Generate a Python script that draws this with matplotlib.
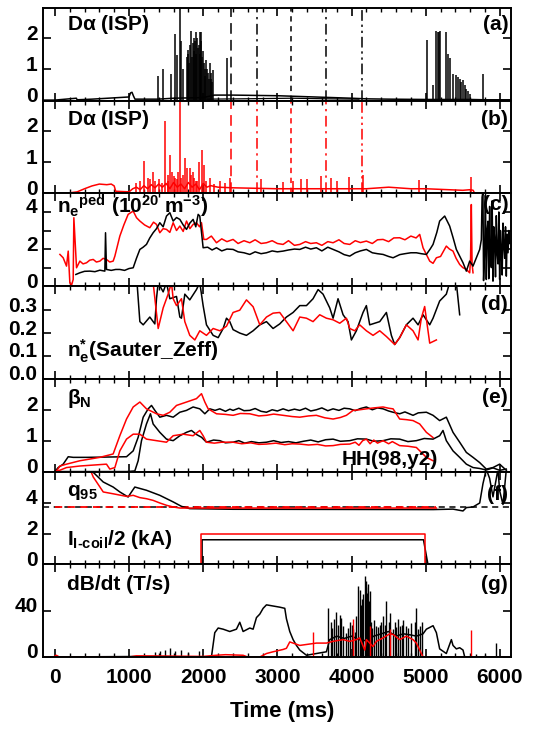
import matplotlib
matplotlib.use('Agg')
import matplotlib.pyplot as plt
from matplotlib.ticker import MultipleLocator, FixedLocator
from matplotlib.transforms import ScaledTranslation

FAM = ['Liberation Sans', 'DejaVu Sans']
plt.rcParams['font.family'] = FAM
plt.rcParams['font.weight'] = 'bold'
plt.rcParams['mathtext.fontset'] = 'custom'
plt.rcParams['mathtext.rm'] = 'Liberation Sans:bold'
plt.rcParams['mathtext.it'] = 'Liberation Sans:bold'
plt.rcParams['mathtext.bf'] = 'Liberation Sans:bold'
plt.rcParams['mathtext.sf'] = 'Liberation Sans:bold'
plt.rcParams['mathtext.default'] = 'rm'

# ---------------- data (time in ms) ----------------
# (a) D-alpha black: baseline + spikes
da_a_t = [-160, 0, 290, 300, 500, 1000, 1020, 1040, 1060, 1080, 1390, 1600, 2000, 2150, 2400,
          3000, 3500, 4000, 4200, 4500, 5000, 5600, 5800, 6150]
da_a_v = [0.02, 0.02, 0.08, 0.03, 0.05, 0.12, 0.25, 0.27, 0.15, 0.05, 0.05, 0.08, 0.1, 0.18, 0.18,
          0.16, 0.12, 0.08, 0.06, 0.05, 0.04, 0.04, 0.03, 0.03]
da_a_low_t = [2050, 2500, 3200, 3700, 4100]
da_a_low_v = [0.05, 0.06, 0.08, 0.06, 0.05]
spk_a_t = [1393, 1460, 1572, 1617, 1649, 1685, 1707, 1730, 1775, 1790, 1800, 1810, 1825, 1842, 1850,
           1864, 1870, 1880, 1890, 1900, 1909, 1920, 1930, 1940, 1954, 1960, 1970, 1977, 1985, 1999,
           2010, 2022, 2030, 2044, 2055, 2067, 2075, 2089, 2100, 2110, 2120, 2134, 2327,
           5022, 5099, 5144, 5160, 5175, 5188, 5278, 5300, 5323, 5368, 5413, 5440, 5458, 5480,
           5503, 5530, 5548, 5570, 5593, 5772]
spk_a_v = [0.78, 1.03, 0.85, 2.14, 1.47, 3.0, 1.9, 1.0, 1.4, 1.5, 1.63, 1.2, 1.8, 2.23, 1.4,
           1.85, 1.6, 2.0, 1.9, 1.5, 2.2, 2.0, 1.7, 1.8, 2.2, 1.5, 1.9, 2.2, 1.4, 1.6,
           1.2, 1.0, 0.8, 1.3, 1.0, 0.9, 0.7, 1.2, 0.9, 0.7, 0.6, 0.98, 1.36,
           1.96, 0.5, 2.23, 2.2, 2.2, 2.23, 2.2, 1.5, 1.36, 0.87, 0.82, 0.75, 0.7, 0.6,
           0.65, 0.5, 0.38, 0.3, 0.22, 0.87]
# vertical time markers
mark_t = [2372, 2732, 3181, 3652, 4147]

# (b) D-alpha red
da_b_t = [-160, 0, 200, 300, 400, 500, 600, 700, 760, 800, 820, 1000, 1050, 1100, 1150, 1200,
          1250, 1300, 1350, 1400, 1450, 1500, 1550, 1600, 1650, 1700, 1750, 1800, 1850, 1900,
          1950, 2000, 2050, 2100, 2200, 2400, 3000, 3500, 4000, 4200, 4500, 4800, 5000, 5300,
          5500, 5600, 5640, 5660, 6150]
da_b_v = [0.0, 0.02, 0.02, 0.05, 0.15, 0.24, 0.3, 0.28, 0.3, 0.24, 0.07, 0.05, 0.15, 0.2, 0.12, 0.25,
          0.15, 0.28, 0.18, 0.3, 0.2, 0.32, 0.15, 0.35, 0.2, 0.3, 0.15, 0.35, 0.2, 0.3,
          0.12, 0.32, 0.2, 0.25, 0.2, 0.18, 0.15, 0.15, 0.15, 0.15, 0.2, 0.15, 0.15, 0.12,
          0.1, 0.12, 0.1, 0.0, 0.0]
spk_b_t = [1100, 1150, 1204, 1250, 1280, 1325, 1350, 1400, 1440, 1491, 1520, 1530, 1559, 1586,
           1600, 1617, 1640, 1660, 1685, 1707, 1730, 1752, 1784, 1819, 1840, 1864, 1880, 1900,
           1920, 1945, 1986, 2008, 2040, 2089, 2150, 2224, 2300, 2358, 2776, 3077, 3212, 3315,
           3405, 3594, 3720, 3809, 3967, 4155, 4910, 5615]
spk_b_v = [0.35, 0.4, 1.03, 0.5, 0.45, 0.7, 0.4, 0.45, 0.35, 2.33, 0.4, 0.6, 1.23, 0.7,
           0.55, 0.5, 0.45, 0.7, 3.0, 0.5, 0.6, 1.12, 0.8, 0.8, 0.6, 0.68, 0.5, 0.4,
           0.4, 1.0, 1.4, 0.9, 0.4, 0.5, 0.3, 0.4, 0.35, 0.5, 0.46, 0.37, 0.4, 0.46,
           0.46, 0.57, 0.5, 0.4, 0.52, 0.6, 0.43, 0.54]

# (c) pedestal density
ne_red_t = [68, 112, 157, 180, 202, 225, 247, 256, 274, 292, 337, 380, 427, 470, 517, 560, 607,
            650, 696, 740, 786, 809, 876, 930, 988, 1056, 1101, 1146, 1210, 1280, 1330, 1370,
            1415, 1460, 1505, 1550, 1595, 1640, 1685, 1730, 1775, 1820, 1864, 1909, 1950, 1977,
            2008, 2044, 2110, 2179, 2250, 2320, 2403, 2470, 2550, 2628, 2700, 2780, 2853, 2930,
            3000, 3077, 3150, 3230, 3302, 3380, 3450, 3526, 3600, 3680, 3751, 3830, 3900, 3976,
            4050, 4120, 4200, 4280, 4350, 4425, 4500, 4570, 4649, 4720, 4800, 4870, 4919, 4964,
            5010, 5054, 5099, 5144, 5200, 5278, 5320, 5368, 5410, 5458, 5500, 5548, 5593, 5605,
            5615, 5625, 5638]
ne_red_v = [1.71, 1.53, 1.08, 1.89, 0.18, 0.05, 0.36, 3.69, 2.34, 0.99, 1.35, 1.2, 1.26, 1.4, 1.44,
            1.3, 1.35, 1.5, 1.44, 1.3, 1.35, 1.62, 2.7, 3.3, 3.87, 4.05, 3.69, 3.51, 3.3, 3.15,
            3.45, 3.33, 2.88, 3.1, 3.06, 2.9, 3.42, 3.0, 3.24, 2.95, 3.51, 3.1, 3.33, 3.42, 3.2,
            3.42, 2.52, 2.52, 2.7, 2.34, 2.55, 2.4, 2.52, 2.3, 2.45, 2.34, 2.5, 2.3, 2.34, 2.45,
            2.3, 2.25, 2.45, 2.2, 2.25, 2.4, 2.3, 2.34, 2.2, 2.4, 2.34, 2.5, 2.3, 2.25, 2.45,
            2.35, 2.43, 2.3, 2.5, 2.52, 2.4, 2.6, 2.61, 2.5, 2.7, 2.6, 2.79, 2.07, 1.7, 1.35,
            1.23, 1.53, 1.6, 2.16, 2.0, 1.89, 1.5, 1.17, 1.0, 0.9, 0.72, 1.5, 4.4, 1.2, 0.72]
ne_blk_t = [283, 337, 400, 472, 540, 607, 660, 674, 683, 696, 760, 820, 876, 940, 1000, 1056,
            1100, 1146, 1190, 1235, 1280, 1325, 1370, 1415, 1460, 1505, 1550, 1595, 1640, 1685,
            1730, 1775, 1820, 1864, 1900, 1932, 1954, 1999, 2060, 2120, 2179, 2250, 2320, 2403,
            2470, 2550, 2628, 2700, 2780, 2853, 2930, 3000, 3077, 3150, 3230, 3302, 3380, 3450,
            3526, 3600, 3680, 3751, 3830, 3900, 3976, 4050, 4120, 4200, 4280, 4350, 4425, 4500,
            4560, 4650, 4720, 4800, 4874, 4940, 5009, 5060, 5099, 5150, 5188, 5256, 5323, 5370,
            5413, 5460, 5503, 5548, 5593, 5638, 5690, 5728, 5750, 5760, 5772, 5780, 5795, 5805,
            5817, 5828, 5840, 5850, 5862, 5873, 5885, 5896, 5907, 5918, 5930, 5941, 5952, 5963,
            5975, 5986, 5997, 6008, 6020, 6031, 6042, 6053, 6065, 6076, 6087, 6098, 6110, 6121,
            6132]
ne_blk_v = [0.63, 0.72, 0.8, 0.81, 0.78, 0.86, 0.82, 0.81, 2.88, 0.9, 0.85, 0.9, 0.9, 0.85, 0.95,
            0.99, 1.5, 1.98, 2.1, 2.25, 2.6, 2.88, 3.1, 3.42, 3.2, 3.78, 3.96, 3.51, 3.7, 3.6,
            3.3, 3.06, 3.4, 3.6, 3.2, 3.87, 3.78, 2.07, 2.1, 1.95, 2.07, 1.9, 2.0, 1.98,
            1.85, 1.8, 1.71, 1.85, 1.75, 1.8, 1.9, 1.85, 1.89, 1.95, 2.0, 1.98, 2.1, 2.0,
            2.07, 1.9, 2.1, 1.98, 1.85, 1.7, 1.62, 1.8, 1.9, 1.98, 1.8, 1.75, 1.71, 1.6,
            1.53, 1.7, 1.75, 1.8, 1.8, 1.75, 1.71, 2.0, 2.25, 2.9, 3.51, 3.78, 3.24, 2.6,
            1.98, 1.6, 1.26, 0.81, 1.35, 1.08, 1.6, 1.98, 2.5, 4.8, 5.1, 0.3, 2.0, 4.9,
            0.36, 3.0, 3.5, 0.4, 4.3, 1.5, 1.0, 4.6, 0.27, 3.2, 2.5, 0.5, 3.8, 1.8,
            1.2, 4.0, 0.36, 3.0, 2.0, 0.6, 3.4, 2.2, 1.5, 3.2, 0.54, 2.8, 1.8, 3.0,
            2.3]

# (d) collisionality
nu_blk_t = [1101, 1146, 1191, 1280, 1348, 1370, 1393, 1460, 1505, 1550, 1640, 1685, 1707, 1752,
            1819, 1909, 1954, 1999, 2044, 2134, 2202, 2269, 2314, 2358, 2403, 2493, 2583, 2673,
            2763, 2853, 2942, 3032, 3122, 3212, 3302, 3392, 3481, 3549, 3616, 3706, 3751, 3818,
            3886, 3953, 3998, 4065, 4155, 4200, 4245, 4380, 4470, 4537, 4582, 4649, 4739, 4829,
            4897, 4964, 5054, 5099, 5188, 5278, 5323, 5413, 5458]
nu_blk_v = [0.45, 0.25, 0.236, 0.27, 0.24, 0.35, 0.42, 0.38, 0.42, 0.35, 0.36, 0.27, 0.265, 0.37,
            0.345, 0.39, 0.42, 0.32, 0.236, 0.19, 0.18, 0.22, 0.265, 0.25, 0.215, 0.2, 0.19, 0.21,
            0.236, 0.25, 0.22, 0.24, 0.27, 0.29, 0.32, 0.32, 0.35, 0.39, 0.37, 0.31, 0.265, 0.35,
            0.28, 0.25, 0.17, 0.21, 0.29, 0.32, 0.236, 0.25, 0.29, 0.19, 0.15, 0.18, 0.236, 0.265,
            0.236, 0.28, 0.236, 0.265, 0.34, 0.37, 0.42, 0.42, 0.28]
nu_red_t = [1325, 1393, 1460, 1527, 1572, 1595, 1640, 1707, 1752, 1819, 1887, 1954, 2044, 2134,
            2224, 2314, 2403, 2493, 2583, 2673, 2763, 2853, 2942, 3032, 3122, 3212, 3302, 3392,
            3481, 3571, 3661, 3751, 3841, 3931, 3976, 4043, 4110, 4200, 4290, 4380, 4470, 4582,
            4649, 4739, 4829, 4897, 4941, 4986, 5054, 5144]
nu_red_v = [0.42, 0.22, 0.31, 0.37, 0.42, 0.35, 0.32, 0.35, 0.25, 0.19, 0.17, 0.21, 0.19, 0.22,
            0.21, 0.23, 0.29, 0.30, 0.345, 0.315, 0.236, 0.27, 0.287, 0.29, 0.25, 0.21, 0.27, 0.265,
            0.25, 0.28, 0.265, 0.258, 0.243, 0.265, 0.22, 0.21, 0.236, 0.21, 0.19, 0.21, 0.185, 0.15,
            0.18, 0.236, 0.21, 0.17, 0.265, 0.316, 0.156, 0.17]

# (e) beta_N and H98
bn_blk_t = [0, 45, 112, 180, 247, 427, 700, 966, 1056, 1123, 1191, 1258, 1303, 1348, 1415, 1505,
            1595, 1685, 1775, 1864, 1954, 2022, 2089, 2160, 2224, 2300, 2360, 2403, 2480, 2550,
            2628, 2700, 2780, 2853, 2930, 3000, 3077, 3150, 3230, 3302, 3380, 3450, 3526, 3600,
            3680, 3751, 3830, 3900, 3976, 4050, 4120, 4200, 4280, 4350, 4425, 4500, 4560, 4649,
            4720, 4829, 4900, 5009, 5099, 5188, 5278, 5368, 5458, 5548, 5638, 5728, 5817, 5907,
            5997, 6087]
bn_blk_v = [0.0, 0.13, 0.24, 0.48, 0.46, 0.46, 0.47, 0.48, 0.67, 1.11, 1.76, 2.03, 2.14, 1.98, 1.76,
            1.82, 1.76, 1.92, 1.98, 2.09, 2.03, 1.87, 2.03, 1.98, 2.03, 1.95, 2.02, 1.98, 2.05,
            1.97, 1.98, 2.04, 1.95, 1.92, 2.0, 1.96, 2.03, 1.97, 2.02, 1.98, 2.05, 1.96, 2.0,
            2.06, 1.97, 2.03, 1.98, 2.05, 2.03, 1.97, 2.04, 2.09, 2.0, 2.06, 2.03, 1.96, 1.92,
            1.87, 1.93, 1.82, 1.9, 1.92, 1.82, 1.65, 1.76, 1.27, 0.95, 0.62, 0.46, 0.29, 0.08,
            0.13, 0.24, 0.04]
hh_blk_t = [0, 966, 1078, 1123, 1168, 1235, 1289, 1325, 1415, 1505, 1595, 1685, 1775, 1842, 1909,
            1977, 2044, 2140, 2224, 2300, 2403, 2480, 2560, 2650, 2750, 2853, 2950, 3050, 3150,
            3250, 3350, 3450, 3550, 3650, 3751, 3850, 3976, 4080, 4200, 4300, 4425, 4530, 4649,
            4760, 4874, 4980, 5099, 5188, 5233, 5278, 5368, 5458, 5548, 5638, 5728, 5817, 5907,
            5997, 6087]
hh_blk_v = [0.0, 0.0, 0.02, 0.35, 1.0, 1.54, 1.87, 1.54, 1.27, 1.05, 1.0, 1.16, 1.27, 1.33, 1.2,
            1.11, 0.95, 1.02, 1.0, 0.93, 0.95, 1.0, 0.92, 0.97, 0.93, 0.95, 1.0, 0.94, 0.97,
            0.93, 0.98, 1.02, 0.96, 1.03, 1.05, 0.98, 1.0, 1.06, 1.05, 0.98, 1.0, 1.06, 1.05,
            0.97, 1.0, 1.07, 1.05, 1.16, 1.33, 1.0, 0.67, 0.46, 0.24, 0.13, 0.1, 0.05, 0.12,
            0.04, 0.08]
bn_red_t = [23, 68, 157, 337, 607, 786, 876, 966, 1056, 1146, 1235, 1370, 1460, 1550, 1640, 1775,
            1909, 1977, 2022, 2067, 2179, 2300, 2403, 2500, 2628, 2750, 2853, 2950, 3077, 3200,
            3302, 3420, 3526, 3640, 3751, 3850, 3931, 4021, 4110, 4200, 4300, 4425, 4500, 4560,
            4649, 4740, 4829, 4919, 5009, 5099]
bn_red_v = [0.02, 0.18, 0.24, 0.35, 0.46, 0.57, 1.16, 1.7, 2.09, 2.25, 2.03, 1.87, 1.82, 1.92, 2.14,
            2.25, 2.36, 2.52, 2.25, 2.03, 1.87, 1.85, 1.82, 1.88, 1.87, 1.8, 1.82, 1.86, 1.82,
            1.78, 1.76, 1.8, 1.82, 1.74, 1.7, 1.75, 1.82, 1.98, 2.0, 2.03, 2.06, 2.09, 2.05,
            2.03, 1.7, 1.68, 1.65, 1.54, 1.27, 1.1]
hh_red_t = [23, 157, 337, 696, 741, 809, 876, 966, 1056, 1146, 1235, 1370, 1505, 1595, 1730, 1864,
            1954, 1999, 2044, 2150, 2250, 2403, 2520, 2640, 2750, 2853, 2980, 3100, 3200, 3302,
            3420, 3540, 3650, 3751, 3850, 3976, 4050, 4100, 4150, 4200, 4250, 4300, 4350, 4425,
            4500, 4550, 4649, 4760, 4874, 5009, 5099]
hh_red_v = [0.0, 0.13, 0.18, 0.24, 0.08, 0.13, 0.67, 1.05, 1.21, 1.21, 1.05, 1.0, 0.95, 1.16, 1.21,
            1.16, 1.33, 1.16, 0.95, 0.92, 0.95, 0.95, 0.9, 0.93, 0.88, 0.89, 0.92, 0.87, 0.9,
            0.89, 0.86, 0.88, 0.83, 0.84, 0.88, 0.89, 0.95, 0.85, 1.0, 1.05, 0.9, 1.02, 0.92,
            1.0, 0.9, 0.97, 0.84, 0.82, 0.78, 0.46, 0.35]

# (f) q95 and I-coil current
q95_target = 3.74
q_red_t = [449, 517, 652, 786, 966, 1056, 1146, 1235, 1325, 1415, 1505, 1595, 1685, 1954, 5144]
q_red_v = [6.5, 5.7, 4.72, 4.6, 4.43, 4.5, 4.35, 4.28, 4.17, 4.0, 3.85, 3.74, 3.67, 3.67, 3.67]
q_blk_t = [472, 539, 652, 786, 876, 988, 1033, 1078, 1235, 1415, 1595, 1707, 1819, 2403, 5099,
           5368, 5503, 5548, 5638, 5728, 5772, 5817, 5862, 5907, 5952, 5974, 5997, 6042, 6087]
q_blk_v = [6.2, 5.9, 5.37, 5.04, 4.72, 4.39, 4.72, 5.04, 4.83, 4.5, 4.07, 3.78, 3.63, 3.59, 3.57,
           3.6, 3.48, 3.7, 3.74, 4.0, 5.26, 6.2, 5.6, 4.4, 5.6, 6.2, 4.8, 3.9, 6.2]
ic_red_t = [-160, 1977, 1977, 4995, 4995, 6150]
ic_red_v = [0, 0, 2.0, 2.0, 0, 0]
ic_blk_t = [-160, 1985, 1985, 4970, 5030, 6150]
ic_blk_v = [0, 0, 1.6, 1.6, 0, 0]

# (g) dB/dt
db_blk_t = [-160, 0, 1300, 2111, 2156, 2202, 2269, 2358, 2448, 2493, 2538, 2628, 2673, 2718, 2763,
            2808, 2853, 2942, 3032, 3100, 3122, 3167, 3212, 3257, 3302, 3392, 3526, 3661, 3706,
            3800, 3900, 4000, 4100, 4200, 4300, 4400, 4500, 4600, 4700, 4800, 4874, 4964, 5009,
            5099, 5144, 5188, 5278, 5346, 5368, 5413, 5458, 5503, 5526, 6150]
db_blk_v = [0, 0, 0.5, 0, 21, 25, 24, 22, 24, 30, 22, 25, 24, 34, 37,
            42, 45, 44, 43, 42, 33, 22, 15, 10, 6, 1.5, 3, 4.5, 15,
            18, 16, 18, 15, 14, 18, 20, 22, 18, 20, 19, 18, 20, 24,
            27, 21, 7, 3, 15, 10, 7, 8, 6, 0, 0]
spk_g_t = [1350, 1420, 1480, 1550, 1620, 1700, 1800, 1950, 3684, 3720, 3740, 3760, 3796, 3820,
           3840, 3863, 3890, 3931, 3950, 3976, 4000, 4021, 4040, 4060, 4088, 4110, 4130, 4140,
           4155, 4178, 4190, 4200, 4210, 4223, 4235, 4245, 4260, 4280, 4300, 4335, 4360, 4380,
           4400, 4420, 4450, 4470, 4500, 4520, 4560, 4580, 4600, 4620, 4649, 4680, 4700, 4739,
           4760, 4800, 4850, 4874, 4900, 4919, 4950, 5683, 5795, 5952]
spk_g_v = [4, 5, 6, 8, 5, 6, 4, 5, 42, 30, 25, 33, 39, 28,
           36, 34, 27, 21, 25, 30, 28, 24, 22, 35, 61, 58, 45, 50,
           54, 70, 60, 66, 55, 63, 48, 57, 30, 25, 32, 27, 26, 28,
           30, 35, 28, 48, 30, 38, 24, 30, 26, 33, 27, 28, 32, 27,
           25, 29, 30, 42, 24, 27, 30, 3, 2, 12]
db_red_t = [-160, -20, 20, 60, 1000, 1100, 2000, 2179, 2300, 2538, 2600, 2763, 2853, 2942, 3077,
            3122, 3167, 3302, 3526, 3661, 3751, 3886, 3976, 4065, 4110, 4178, 4200, 4290, 4335,
            4425, 4515, 4560, 4649, 4739, 4829, 4874, 4919, 4964, 6150]
db_red_v = [0, 0, 1.5, 0, 0, 1, 0.5, 1.5, 2, 1.5, 0, 0, 3, 4.5, 6.5,
            7.5, 13, 10, 12, 12, 13.5, 15, 13.5, 15, 16.5, 6, 15, 9, 13.5,
            16.5, 20, 19.5, 15, 18, 15, 12, 6, 0, 0]
spk_gr_t = [3481, 4021, 4245, 4515, 5615]
spk_gr_v = [22, 33, 27, 24, 23]

# ---------------- figure ----------------
W, H = 557, 729
fig = plt.figure(figsize=(W / 100, H / 100), dpi=100)
left_px, right_px, top_px, bot_px = 43, 511, 8, 657
ph = (bot_px - top_px) / 7.0

RED = '#ff0000'
BLK = '#000000'
LW = 1.1
TFS = 15
LFS = 15

axes = []
for i in range(7):
    y0 = 1 - (top_px + (i + 1) * ph) / H
    ax = fig.add_axes([left_px / W, y0, (right_px - left_px) / W, ph / H])
    ax.set_xlim(-160, 6150)
    ax.xaxis.set_major_locator(MultipleLocator(1000))
    ax.xaxis.set_minor_locator(MultipleLocator(200))
    ax.tick_params(axis='both', which='major', direction='in', top=True, right=True,
                   length=6, width=1.2, labelsize=TFS, pad=4)
    ax.tick_params(axis='both', which='minor', direction='in', top=True, right=True,
                   length=3, width=1.0)
    ax.tick_params(axis='x', pad=8)
    for s in ax.spines.values():
        s.set_linewidth(1.4)
    if i < 6:
        ax.tick_params(axis='x', labelbottom=False)
    axes.append(ax)

def label(ax, s, xf, yf, ha='left', fs=LFS):
    ax.text(xf, yf, s, transform=ax.transAxes, ha=ha, va='center', fontsize=fs,
            fontweight='bold', clip_on=False, zorder=10)

def yticks(ax, ticks, labels):
    ax.yaxis.set_major_locator(FixedLocator(ticks))
    ax.set_yticklabels(labels)

dash_styles = [(0, (7, 4)), (0, (7, 3, 1.5, 3)), (0, (3.5, 3)), (0, (7, 3, 1.5, 3)),
               (0, (7, 2.5, 1.5, 2.5, 1.5, 2.5))]

# (a)
ax = axes[0]
ax.plot(da_a_t, da_a_v, color=BLK, lw=LW)
ax.plot(da_a_low_t, da_a_low_v, color=BLK, lw=0.9)
ax.vlines(spk_a_t, 0, spk_a_v, color=BLK, lw=1.1)
for t, ls in zip(mark_t, dash_styles):
    ax.axvline(t, color=BLK, lw=1.1, linestyle=ls)
ax.set_ylim(0, 2.97)
yticks(ax, [0, 1, 2], ['0', '1', '2'])
label(ax, r'D$\alpha$ (ISP)', 0.051, 0.82)
label(ax, '(a)', 0.994, 0.82, ha='right')

# (b)
ax = axes[1]
ax.plot(da_b_t, da_b_v, color=RED, lw=LW)
ax.vlines(spk_b_t, 0, spk_b_v, color=RED, lw=1.1)
for t, ls in zip(mark_t, dash_styles):
    ax.axvline(t, color=RED, lw=1.1, linestyle=ls)
ax.set_ylim(0, 2.97)
yticks(ax, [0, 1, 2], ['0', '1', '2'])
label(ax, r'D$\alpha$ (ISP)', 0.051, 0.80)
label(ax, '(b)', 0.994, 0.80, ha='right')

# (c)
ax = axes[2]
ax.plot(ne_red_t, ne_red_v, color=RED, lw=LW)
ax.plot(ne_blk_t, ne_blk_v, color=BLK, lw=LW)
ax.set_ylim(0, 5)
yticks(ax, [0, 1, 2, 3, 4], ['0', '', '2', '', '4'])
label(ax, r'n$_{e}$$^{ped}$ (10$^{20}$ m$^{-3}$)', 0.03, 0.86)
label(ax, '(c)', 0.994, 0.88, ha='right')

# (d)
ax = axes[3]
ax.plot(nu_blk_t, nu_blk_v, color=BLK, lw=LW)
ax.plot(nu_red_t, nu_red_v, color=RED, lw=LW)
ax.set_ylim(0, 0.405)
yticks(ax, [0.0, 0.1, 0.2, 0.3], ['0.0', '0.1', '0.2', '0.3'])
label(ax, r'n$_{e}^{*}$(Sauter_Zeff)', 0.051, 0.30)
label(ax, '(d)', 0.994, 0.80, ha='right')

# (e)
ax = axes[4]
ax.plot(bn_blk_t, bn_blk_v, color=BLK, lw=LW)
ax.plot(hh_blk_t, hh_blk_v, color=BLK, lw=LW)
ax.plot(bn_red_t, bn_red_v, color=RED, lw=LW)
ax.plot(hh_red_t, hh_red_v, color=RED, lw=LW)
ax.set_ylim(0, 3)
yticks(ax, [0, 1, 2], ['0', '1', '2'])
label(ax, r'$\beta_{N}$', 0.051, 0.79)
label(ax, 'HH(98,y2)', 0.639, 0.13)
label(ax, '(e)', 0.994, 0.80, ha='right')

# (f)
ax = axes[5]
ax.axhline(q95_target, color=BLK, lw=1.1, linestyle=(0, (4, 3)))
ax.plot([0, 5144], [q95_target, q95_target], color=RED, lw=1.3, linestyle=(0, (4, 3)))
ax.plot(q_blk_t, q_blk_v, color=BLK, lw=LW)
ax.plot(q_red_t, q_red_v, color=RED, lw=LW)
ax.plot(ic_blk_t, ic_blk_v, color=BLK, lw=LW)
ax.plot(ic_red_t, ic_red_v, color=RED, lw=LW)
ax.set_ylim(0, 6.05)
yticks(ax, [0, 2, 4], ['0', '2', '4'])
label(ax, r'q$_{95}$', 0.051, 0.77)
label(ax, r'I$_{I\text{-}coil}$/2 (kA)', 0.051, 0.27)
label(ax, '(f)', 0.994, 0.75, ha='right')

# (g)
ax = axes[6]
ax.plot(db_blk_t, db_blk_v, color=BLK, lw=LW)
ax.vlines(spk_g_t, 0, spk_g_v, color=BLK, lw=1.0)
ax.plot(db_red_t, db_red_v, color=RED, lw=LW)
ax.vlines(spk_gr_t, 0, spk_gr_v, color=RED, lw=1.0)
ax.set_ylim(0, 80)
yticks(ax, [0, 40], ['0', '40'])
label(ax, 'dB/dt (T/s)', 0.051, 0.78)
label(ax, '(g)', 0.994, 0.78, ha='right')
ax.set_xticks([0, 1000, 2000, 3000, 4000, 5000, 6000])

# y tick labels sit a few pixels above their ticks, as in the reference
shift = ScaledTranslation(0, 0.06, fig.dpi_scale_trans)
for ax in axes:
    for lab in ax.get_yticklabels():
        lab.set_transform(lab.get_transform() + shift)

fig.text(282 / W, 1 - 712 / H, 'Time (ms)', ha='center', va='center', fontsize=16,
         fontweight='bold')

fig.savefig('out.png', dpi=100)
